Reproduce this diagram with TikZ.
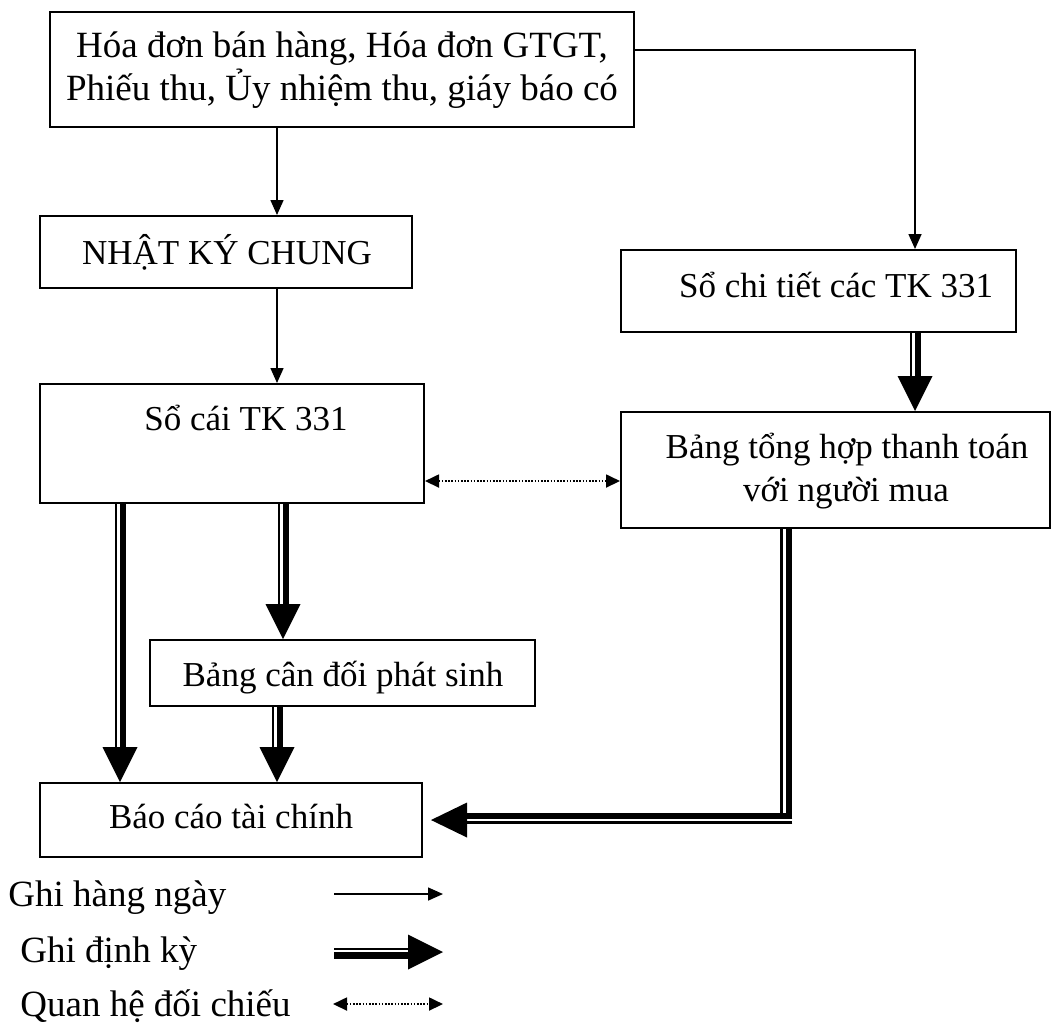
\documentclass[tikz,border=0pt]{standalone}
\usepackage{fontspec}
\setmainfont{Liberation Serif}
\usetikzlibrary{calc,arrows.meta}

% heavy "periodic" connector pointing down: thin rule on the left,
% heavy rule on the right, solid triangular head
% #1 column coordinate, #2 start anchor, #3 target anchor
\newcommand\heavydown[3]{%
  \draw[line width=1.15pt] ($(#1|-#2)+(-3.8,0)$) -- ($(#1|-#3)+(-3.8,-34)$);
  \draw[line width=3.2pt] ($(#1|-#2)+(2.8,0)$) -- ($(#1|-#3)+(2.8,-34)$);
  \fill ($(#1|-#3)+(-17.5,-35)$) -- (#1|-#3) -- ($(#1|-#3)+(17.5,-35)$) -- cycle;
}

\begin{document}
\begin{tikzpicture}[x=0.5pt,y=-0.5pt,
  font=\fontsize{18.5pt}{21.5pt}\selectfont,
  box/.style={draw,line width=1pt,inner sep=0pt},
  txt/.style={inner sep=0pt,anchor=base},
  small/.style={txt,font=\fontsize{17.5pt}{21pt}\selectfont},
  feed/.style={line width=0.75pt,-{Triangle[length=7.5pt,width=6.5pt]}},
  check/.style={line width=0.9pt,dash pattern=on 0.8pt off 0.8pt,
    {Triangle[length=7pt,width=6.5pt]}-{Triangle[length=7pt,width=6.5pt]}},
]
\useasboundingbox (0,0) rectangle (1063,1025);

% boxes
\node[box,minimum width=292pt,minimum height=57.5pt] (n1) at (342,69.5) {};
\node[txt] (t1a) at (342,57) {Hóa đơn bán hàng, Hóa đơn GTGT,};
\node[txt] (t1b) at (342,100) {Phiếu thu, Ủy nhiệm thu, giáy báo có};

\node[box,minimum width=186pt,minimum height=36pt] (n2) at (226,252) {};
\node[small] (t2) at (227,264) {NHẬT KÝ CHUNG};

\node[box,minimum width=197.5pt,minimum height=41pt] (n3) at (818.5,291) {};
\node[small] (t3) at (836,297) {Sổ chi tiết các TK 331};

\node[box,minimum width=192pt,minimum height=59.5pt] (n4) at (232,443.5) {};
\node[small] (t4) at (246,430) {Sổ cái TK 331};

\node[box,minimum width=214.5pt,minimum height=58pt] (n5) at (835.5,470) {};
\node[small] (t5a) at (847,458) {Bảng tổng hợp thanh toán};
\node[small] (t5b) at (846,501) {với người mua};

\node[box,minimum width=192.5pt,minimum height=33pt] (n6) at (342.5,673) {};
\node[small] (t6) at (343,686) {Bảng cân đối phát sinh};

\node[box,minimum width=191pt,minimum height=37pt] (n7) at (231,820) {};
\node[small] (t7) at (231,828) {Báo cáo tài chính};

% columns and rows used by the connectors
\coordinate (c1) at (277,0);
\coordinate (cA) at (915,0);
\coordinate (cB) at (283,0);
\coordinate (cC) at (120,0);
\coordinate (cD) at (277,0);
\coordinate (r1) at (0,50);
\coordinate (r2) at (0,481);
\coordinate (bend) at (786,818);

% daily entries
\draw[feed] (c1|-n1.south) -- (c1|-n2.north);
\draw[feed] (c1|-n2.south) -- (c1|-n4.north);
\draw[feed] (n1.east|-r1) -| (cA|-n3.north);

% cross-check
\draw[check] (n4.east|-r2) -- (n5.west|-r2);

% periodic entries
\heavydown{cA}{n3.south}{n5.north}
\heavydown{cB}{n4.south}{n6.north}
\heavydown{cC}{n4.south}{n7.north}
\heavydown{cD}{n6.south}{n7.north}

% periodic entry from the summary table, bent towards the statements
\draw[line width=1.1pt] ($(bend|-n5.south)+(-4.5,0)$) -- ($(bend)+(-4.5,-5.3)$);
\draw[line width=3.3pt] ($(bend|-n5.south)+(3,0)$) -- ($(bend)+(3,1.3)$);
\draw[line width=3.3pt] ($(bend)+(6.3,-2)$) -- ($(n7.east|-bend)+(43,-2)$);
\draw[line width=1.1pt] ($(bend)+(6.3,4.5)$) -- ($(n7.east|-bend)+(43,4.5)$);
\fill ($(n7.east|-bend)+(8,2)$) -- ++(36,-17.5) -- ++(0,35) -- cycle;

% legend
\node[txt,anchor=base west] (g1) at (8,906) {Ghi hàng ngày};
\node[txt,anchor=base west] (g2) at (20,962) {Ghi định kỳ};
\node[txt,anchor=base west] (g3) at (20,1016) {Quan hệ đối chiếu};

\coordinate (l1a) at (334,894);
\coordinate (l1b) at (443,894);
\draw[feed] (l1a) -- (l1b);

\coordinate (l2a) at (334,952);
\coordinate (l2b) at (443,952);
\draw[line width=1.1pt] ($(l2a)+(0,-3)$) -- ($(l2b)+(-34,-3)$);
\draw[line width=3.3pt] ($(l2a)+(0,3.5)$) -- ($(l2b)+(-34,3.5)$);
\fill (l2b) -- ++(-35,-17.5) -- ++(0,35) -- cycle;

\coordinate (l3a) at (333,1004);
\coordinate (l3b) at (443,1004);
\draw[check] (l3a) -- (l3b);
\end{tikzpicture}
\end{document}
